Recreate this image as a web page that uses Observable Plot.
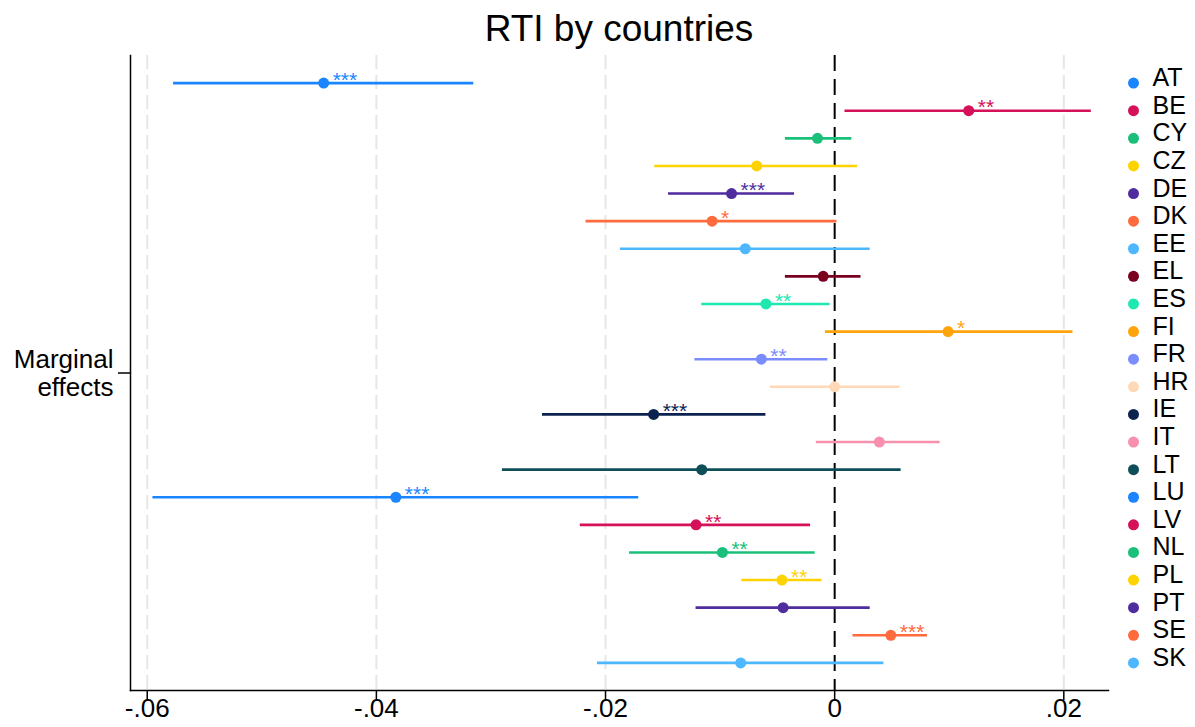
<!DOCTYPE html>
<html>
<head>
<meta charset="utf-8">
<script src="https://cdn.jsdelivr.net/npm/d3@7"></script>
<script src="https://cdn.jsdelivr.net/npm/@observablehq/plot@0.6"></script>
<style>
  html, body { margin: 0; padding: 0; background: #fff; }
  #title {
    width: 1195px; box-sizing: border-box; padding: 3px 87px 0 130px;
    height: 55px; line-height: 52px; text-align: center;
    font-family: "Liberation Sans", Arial, sans-serif; font-size: 37px; color: #000;
  }
  #chart svg { display: block; }
</style>
</head>
<body>
<div id="title">RTI by countries</div>
<div id="chart"></div>
<script>
const countries = ["AT","BE","CY","CZ","DE","DK","EE","EL","ES","FI","FR","HR","IE","IT","LT","LU","LV","NL","PL","PT","SE","SK"];
const estimates = [-0.0446, 0.0117, -0.0015, -0.0068, -0.0090, -0.0107, -0.0078, -0.0010, -0.0060, 0.0099, -0.0064, 0.0000, -0.0158, 0.0039, -0.0116, -0.0383, -0.0121, -0.0098, -0.0046, -0.0045, 0.0049, -0.0082];
const lower = [-0.0577, 0.0009, -0.0043, -0.0157, -0.0145, -0.0217, -0.0187, -0.0043, -0.0116, -0.0008, -0.0122, -0.0056, -0.0255, -0.0016, -0.0290, -0.0595, -0.0222, -0.0179, -0.0081, -0.0121, 0.0016, -0.0207];
const upper = [-0.0315, 0.0224, 0.0015, 0.0020, -0.0035, 0.0002, 0.0031, 0.0023, -0.0004, 0.0208, -0.0006, 0.0057, -0.0060, 0.0092, 0.0058, -0.0171, -0.0021, -0.0017, -0.0011, 0.0031, 0.0081, 0.0043];
const stars = ["***","**","","","***","*","","","**","*","**","","***","","","***","**","**","**","","***",""];
const colors = ["#1A85FF","#D41159","#1AC07A","#FFD300","#4F2D9E","#FF6B3D","#4DB8FF","#7A0020","#1CE8B0","#FFA40A","#7B8CFF","#FFD9B7","#0C2350","#F78FAD","#0E4E58","#1A85FF","#D41159","#1AC07A","#FFD300","#4F2D9E","#FF6B3D","#4DB8FF"];
const xTicks = [-0.06, -0.04, -0.02, 0, 0.02];
const xTickLabels = ["-.06", "-.04", "-.02", "0", ".02"];
const gridTicks = [-0.06, -0.04, -0.02, 0.02];
const yLabel = "Marginal\neffects";

const data = countries.map((c, i) => ({
  country: c, row: i + 1, est: estimates[i], lo: lower[i], hi: upper[i], stars: stars[i]
}));

const font = "'Liberation Sans', Arial, sans-serif";

const chart = Plot.plot({
  width: 1195,
  height: 672,
  marginTop: 0,
  marginBottom: 37,
  marginLeft: 130,
  marginRight: 87,
  style: { fontFamily: font, color: "#000", background: "#fff", overflow: "visible" },
  x: { domain: [-0.06146, 0.0239] },
  y: { domain: [0, 23], reverse: true },
  color: { type: "ordinal", domain: countries, range: colors },
  marks: [
    Plot.ruleX(gridTicks, { stroke: "#e6e6e6", strokeWidth: 2, strokeDasharray: "14,6" }),
    Plot.ruleX([0], { stroke: "#000", strokeWidth: 2, strokeDasharray: "16,8" }),
    Plot.frame({ anchor: "left", stroke: "#000", strokeWidth: 1.5 }),
    Plot.frame({ anchor: "bottom", stroke: "#000", strokeWidth: 1.5 }),
    Plot.axisX({
      ticks: xTicks, tickFormat: (d, i) => xTickLabels[i], tickSize: 10, tickPadding: -2,
      fontSize: 26, label: null, stroke: "#000", strokeWidth: 1.5
    }),
    Plot.axisY({
      ticks: [11.5], tickFormat: () => yLabel, tickSize: 12, tickPadding: 5,
      fontSize: 26, label: null, stroke: "#000", strokeWidth: 1.5, lineHeight: 1.08
    }),
    Plot.ruleY(data, { y: "row", x1: "lo", x2: "hi", stroke: "country", strokeWidth: 2.6 }),
    Plot.dot(data, { y: "row", x: "est", fill: "country", r: 5.5 }),
    Plot.text(data, {
      y: "row", x: "est", text: "stars", fill: "country", fontSize: 21,
      textAnchor: "start", dx: 9, dy: -3
    }),
    // legend
    Plot.dot(data, { y: "row", frameAnchor: "right", dx: 25, fill: "country", r: 5.5 }),
    Plot.text(data, {
      y: "row", frameAnchor: "right", dx: 44, dy: -5, text: "country",
      textAnchor: "start", fontSize: 25, fill: "#000"
    })
  ]
});
document.getElementById("chart").appendChild(chart);
</script>
</body>
</html>
